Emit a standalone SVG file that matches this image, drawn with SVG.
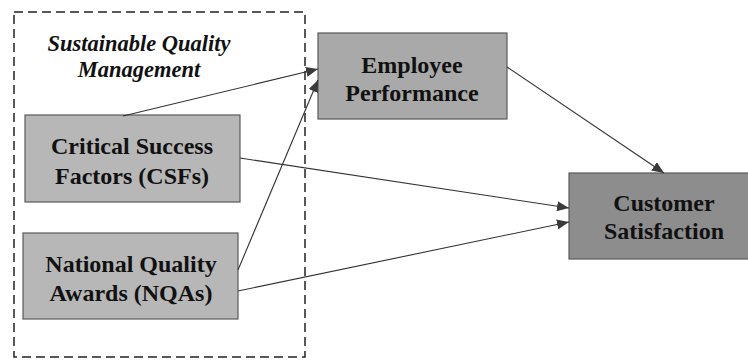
<svg xmlns="http://www.w3.org/2000/svg" width="748" height="360" viewBox="0 0 748 360">
<defs>
<style>
.box{stroke:#5a5a5a;stroke-width:1.2}
.lbl{font-family:"Liberation Serif","Times New Roman",serif;font-weight:bold;font-size:24px;fill:#111;text-anchor:middle}
.ttl{font-family:"Liberation Serif","Times New Roman",serif;font-weight:bold;font-style:italic;font-size:22.5px;fill:#111;text-anchor:middle}
.edge{stroke:#333;stroke-width:1.1;fill:none;marker-end:url(#ah)}
</style>
<marker id="ah" viewBox="0 0 12 10" refX="12" refY="5" markerWidth="12" markerHeight="10" markerUnits="userSpaceOnUse" orient="auto">
<path d="M0,0 L12,5 L0,10 Z" fill="#3a3a3a"/>
</marker>
</defs>
<rect width="748" height="360" fill="#ffffff"/>
<g id="sqm">
<rect x="14" y="12" width="291" height="345" fill="none" stroke="#222" stroke-width="1.5" stroke-dasharray="9,5"/>
<text class="ttl" x="139" y="51">Sustainable Quality</text>
<text class="ttl" x="139" y="77">Management</text>
</g>
<g id="csf">
<rect class="box" x="25" y="115" width="215" height="87" fill="#b7b7b7"/>
<text class="lbl" x="132" y="154">Critical Success</text>
<text class="lbl" x="132" y="184">Factors (CSFs)</text>
</g>
<g id="nqa">
<rect class="box" x="23" y="233" width="215" height="86" fill="#b7b7b7"/>
<text class="lbl" x="131" y="272">National Quality</text>
<text class="lbl" x="131" y="301">Awards (NQAs)</text>
</g>
<g id="emp">
<rect class="box" x="318" y="33" width="189" height="86" fill="#a9a9a9"/>
<text class="lbl" x="412" y="73">Employee</text>
<text class="lbl" x="412" y="101">Performance</text>
</g>
<g id="cust">
<rect class="box" x="569" y="173" width="190" height="86" fill="#8d8d8d"/>
<text class="lbl" x="664" y="211">Customer</text>
<text class="lbl" x="664" y="239">Satisfaction</text>
</g>
<g id="connectors">
<line class="edge" x1="123" y1="116" x2="318" y2="69"/>
<line class="edge" x1="238" y1="270" x2="318" y2="80"/>
<line class="edge" x1="240" y1="158" x2="569" y2="208"/>
<line class="edge" x1="238" y1="291" x2="569" y2="222"/>
<line class="edge" x1="507" y1="67" x2="664" y2="173"/>
</g>
</svg>
